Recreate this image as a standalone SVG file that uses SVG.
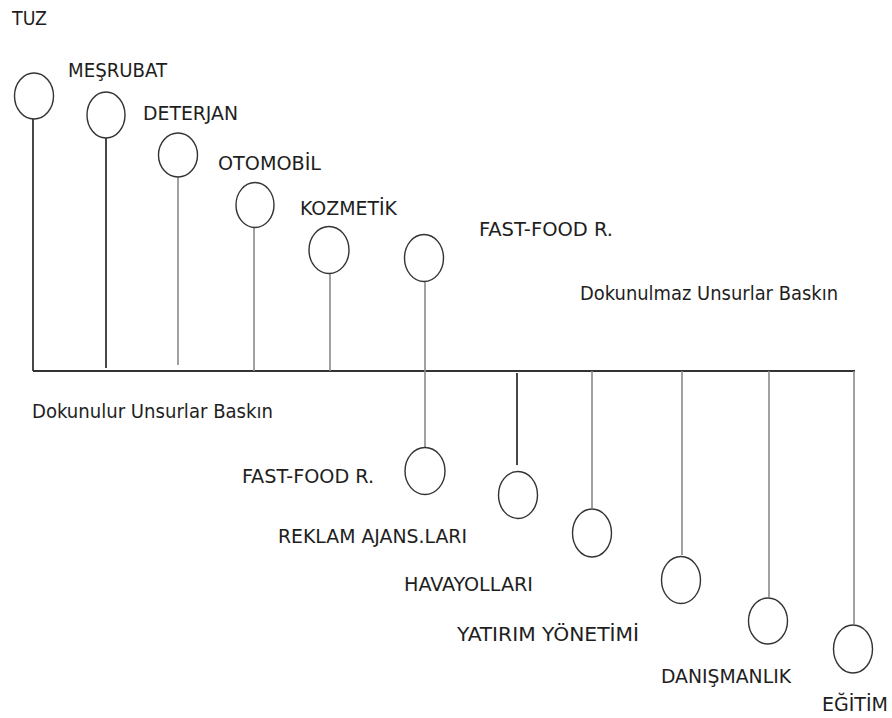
<svg xmlns="http://www.w3.org/2000/svg" width="892" height="718" viewBox="0 0 892 718">
<style>
.bg{fill:#ffffff}
.n ellipse{fill:none;stroke:#333;stroke-width:1.4}
text{font-family:"DejaVu Sans Condensed","DejaVu Sans",sans-serif;font-size:19px;fill:#1e1e1e}
.main{stroke:#333;stroke-width:2.2;fill:none}
.dk{stroke:#333;stroke-width:1.8}
.gr{stroke:#8a8a8a;stroke-width:1.6}
</style>
<rect class="bg" x="0" y="0" width="892" height="718"/>
<g id="connectors">
<line class="main" x1="33" y1="371" x2="855" y2="371"/>
<line class="dk" x1="33" y1="119" x2="33" y2="371"/>
<line class="dk" x1="106" y1="138" x2="106" y2="368"/>
<line class="gr" x1="178" y1="177" x2="178" y2="365"/>
<line class="gr" x1="254" y1="227" x2="254" y2="371"/>
<line class="gr" x1="330" y1="274" x2="330" y2="371"/>
<line class="gr" x1="425" y1="282" x2="425" y2="448"/>
<line class="dk" x1="517" y1="373" x2="517" y2="465"/>
<line class="gr" x1="592" y1="371" x2="592" y2="508"/>
<line class="gr" x1="682" y1="371" x2="682" y2="555"/>
<line class="gr" x1="769" y1="371" x2="769" y2="597"/>
<line class="gr" x1="854" y1="371" x2="854" y2="624"/>
</g>
<g id="tuz" class="n"><ellipse cx="34" cy="96" rx="19.5" ry="23"/><text x="12" y="25" textLength="35" lengthAdjust="spacingAndGlyphs">TUZ</text></g>
<g id="mesrubat" class="n"><ellipse cx="106" cy="115" rx="19" ry="23"/><text x="68" y="77" textLength="99" lengthAdjust="spacingAndGlyphs">MEŞRUBAT</text></g>
<g id="deterjan" class="n"><ellipse cx="178" cy="155" rx="19.5" ry="22"/><text x="143" y="120" textLength="95" lengthAdjust="spacingAndGlyphs">DETERJAN</text></g>
<g id="otomobil" class="n"><ellipse cx="255" cy="205" rx="19" ry="22.5"/><text x="218" y="170" textLength="103" lengthAdjust="spacingAndGlyphs">OTOMOBİL</text></g>
<g id="kozmetik" class="n"><ellipse cx="329" cy="250" rx="20" ry="23.5"/><text x="300" y="215" textLength="97" lengthAdjust="spacingAndGlyphs">KOZMETİK</text></g>
<g id="fastfood-top" class="n"><ellipse cx="424" cy="258" rx="19.5" ry="23.5"/><text x="479" y="236" textLength="134" lengthAdjust="spacingAndGlyphs">FAST-FOOD R.</text></g>
<g id="label-dokunulmaz"><text x="580" y="300" textLength="258" lengthAdjust="spacingAndGlyphs">Dokunulmaz Unsurlar Baskın</text></g>
<g id="label-dokunulur"><text x="32" y="418" textLength="241" lengthAdjust="spacingAndGlyphs">Dokunulur Unsurlar Baskın</text></g>
<g id="fastfood-bottom" class="n"><ellipse cx="425" cy="471" rx="20" ry="23.5"/><text x="242" y="483" textLength="132" lengthAdjust="spacingAndGlyphs">FAST-FOOD R.</text></g>
<g id="reklam" class="n"><ellipse cx="518" cy="495" rx="19.5" ry="23.5"/><text x="278" y="543" textLength="189" lengthAdjust="spacingAndGlyphs">REKLAM AJANS.LARI</text></g>
<g id="havayollari" class="n"><ellipse cx="592" cy="533" rx="19.5" ry="24"/><text x="404" y="591" textLength="129" lengthAdjust="spacingAndGlyphs">HAVAYOLLARI</text></g>
<g id="yatirim" class="n"><ellipse cx="681" cy="580" rx="19.5" ry="23.5"/><text x="457" y="641" textLength="182" lengthAdjust="spacingAndGlyphs">YATIRIM YÖNETİMİ</text></g>
<g id="danismanlik" class="n"><ellipse cx="768" cy="621" rx="19.5" ry="23"/><text x="661" y="683" textLength="130" lengthAdjust="spacingAndGlyphs">DANIŞMANLIK</text></g>
<g id="egitim" class="n"><ellipse cx="853" cy="649" rx="19.5" ry="24"/><text x="822" y="711" textLength="66" lengthAdjust="spacingAndGlyphs">EĞİTİM</text></g>
</svg>
